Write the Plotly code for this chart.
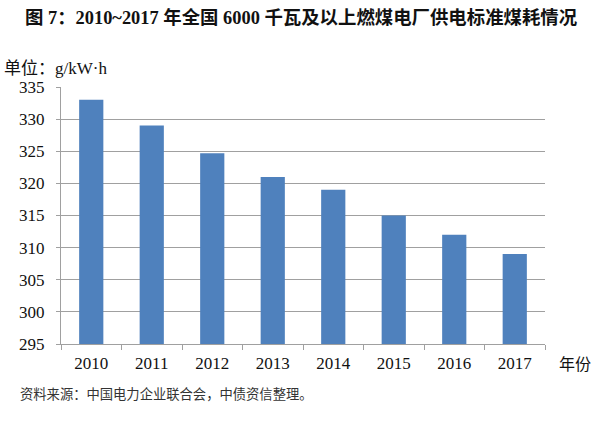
import plotly.graph_objects as go

years = ["2010", "2011", "2012", "2013", "2014", "2015", "2016", "2017"]
coal_use = [333, 329, 324.7, 321, 319, 315, 312, 309]
y_ticks = [295, 300, 305, 310, 315, 320, 325, 330, 335]

title_text = "图 7：2010~2017 年全国 6000 千瓦及以上燃煤电厂供电标准煤耗情况"
unit_text = "单位：g/kW·h"
xunit_text = "年份"
source_text = "资料来源：中国电力企业联合会，中债资信整理。"

SERIF = "Liberation Serif, Times New Roman, Noto Sans CJK SC, serif"

L, R, T, B = 61, 545, 87, 344
PW, PH = R - L, B - T

fig = go.Figure(go.Bar(
    x=years, y=coal_use,
    marker=dict(color="#4F81BD", line=dict(width=0)),
    width=0.4,
))

fig.update_layout(
    width=600, height=422,
    margin=dict(l=L, r=600 - R, t=T, b=422 - B),
    paper_bgcolor="white", plot_bgcolor="white",
    showlegend=False,
    font=dict(family=SERIF, color="#111111"),
)
fig.update_yaxes(
    range=[295, 335], tickvals=y_ticks, showgrid=True, gridcolor="#A0A0A0", gridwidth=1,
    showline=True, linecolor="#A0A0A0", linewidth=1,
    ticks="outside", ticklen=4, tickcolor="#A0A0A0", ticklabelstandoff=8,
    tickfont=dict(size=17, family=SERIF, color="#111111"), zeroline=False,
)
fig.update_xaxes(
    type="category", showline=True, linecolor="#A0A0A0", linewidth=1,
    ticks="outside", ticklen=5, tickcolor="#A0A0A0", tickson="boundaries",
    ticklabelstandoff=4,
    tickfont=dict(size=17, family=SERIF, color="#111111"), showgrid=False,
)


def px(x):
    return (x - L) / PW


def py(y):
    return (B - y) / PH


fig.add_annotation(text="<b>" + title_text + "</b>", xref="paper", yref="paper",
                   x=px(301), xanchor="center", y=py(17), yanchor="middle", showarrow=False,
                   font=dict(size=18.4, family="Liberation Serif, Noto Sans CJK SC, serif", color="#111111"))
fig.add_annotation(text=unit_text, xref="paper", yref="paper",
                   x=px(2), xanchor="left", y=py(68), yanchor="middle", showarrow=False,
                   font=dict(size=17, family=SERIF, color="#111111"))
fig.add_annotation(text=xunit_text, xref="paper", yref="paper",
                   x=px(557), xanchor="left", y=py(363), yanchor="middle", showarrow=False,
                   font=dict(size=16, family="Noto Sans CJK SC, sans-serif", color="#111111"))
fig.add_annotation(text=source_text, xref="paper", yref="paper",
                   x=px(18), xanchor="left", y=py(393), yanchor="middle", showarrow=False,
                   font=dict(size=13.3, family="Noto Sans CJK SC, sans-serif", color="#333333"))

fig.write_html("out.html", post_script="document.body.style.margin='0';",
               config={"displayModeBar": False})
